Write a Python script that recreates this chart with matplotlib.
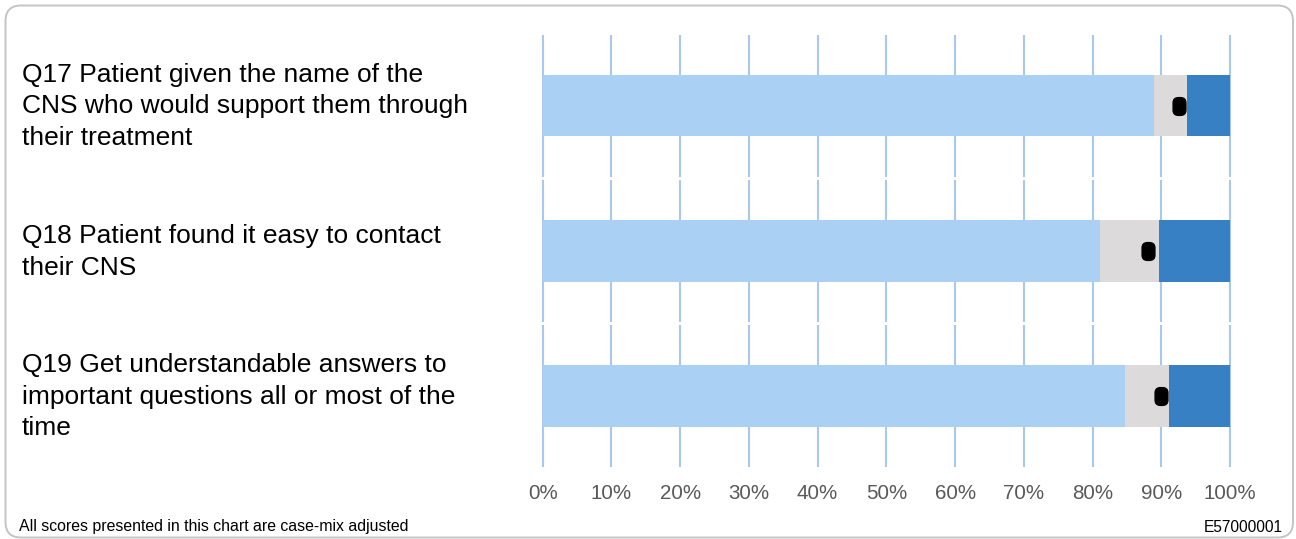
import matplotlib
matplotlib.use("Agg")
import matplotlib.pyplot as plt
from matplotlib.patches import FancyBboxPatch
from matplotlib.path import Path
from matplotlib.markers import MarkerStyle
import matplotlib.transforms as mtransforms

plt.rcParams['font.family'] = ['Liberation Sans', 'DejaVu Sans']

# ---- data ----
questions = [
    "Q17 Patient given the name of the\nCNS who would support them through\ntheir treatment",
    "Q18 Patient found it easy to contact\ntheir CNS",
    "Q19 Get understandable answers to\nimportant questions all or most of the\ntime",
]
lower_limit = [88.9, 81.1, 84.7]   # end of light-blue segment
upper_limit = [93.8, 89.7, 91.1]   # end of grey (expected range) segment
max_score = [100, 100, 100]
trust_score = [92.6, 88.0, 90.0]
tick_values = [0, 10, 20, 30, 40, 50, 60, 70, 80, 90, 100]
tick_labels = ["0%", "10%", "20%", "30%", "40%", "50%", "60%", "70%", "80%", "90%", "100%"]
footer_left = "All scores presented in this chart are case-mix adjusted"
footer_right = "E57000001"

# ---- style ----
c_low = "#AAD0F4"
c_mid = "#DCDADA"
c_high = "#3880C4"
c_grid = "#A9C9EC"

W, H = 1296, 539
fig = plt.figure(figsize=(W / 100, H / 100), dpi=100)

# rounded border
border = FancyBboxPatch((5.5 / W, 1.5 / H), (1293 - 5.5) / W, (533.5 - 1.5) / H,
                        boxstyle="round,pad=0,rounding_size=0.012",
                        transform=fig.transFigure, facecolor="none",
                        edgecolor="#C4C4C4", linewidth=1.4, mutation_aspect=W / H)
fig.patches.append(border)

# rounded-rect marker
box = FancyBboxPatch((-0.36, -0.5), 0.72, 1.0,
                     boxstyle="round,pad=0,rounding_size=0.3")
marker_path = box.get_path()
marker = MarkerStyle(Path(marker_path.vertices, marker_path.codes))

rows = [(35, 176.5), (180, 322), (325, 467)]
x0, x1 = 542.7, 1230.0

for i, (top, bot) in enumerate(rows):
    ax = fig.add_axes([x0 / W, 1 - bot / H, (x1 - x0) / W, (bot - top) / H])
    ax.set_xlim(0, 100)
    ax.set_ylim(-0.5, 0.5)
    for s in ax.spines.values():
        s.set_visible(False)
    ax.vlines(tick_values, -0.5, 0.5, colors=c_grid, linewidth=1.5,
              zorder=0, clip_on=False)
    h = 0.43
    ax.barh(0, lower_limit[i], height=h, color=c_low, zorder=2)
    ax.barh(0, upper_limit[i] - lower_limit[i], left=lower_limit[i], height=h,
            color=c_mid, zorder=2)
    ax.barh(0, max_score[i] - upper_limit[i], left=upper_limit[i], height=h,
            color=c_high, zorder=2)
    ax.plot([trust_score[i]], [0], linestyle="none", marker=marker,
            markersize=12.8, color="black", zorder=3)
    ax.set_yticks([])
    if i == len(rows) - 1:
        ax.set_xticks(tick_values)
        ax.set_xticklabels(tick_labels, fontsize=14.8, color="#595959")
        ax.tick_params(axis="x", length=0, pad=12)
    else:
        ax.set_xticks([])
    trans = mtransforms.blended_transform_factory(fig.transFigure, ax.transData)
    ax.text(22 / W, -0.005, questions[i], transform=trans, ha="left", va="center",
            fontsize=19, color="black", linespacing=1.4)

fig.text(19 / W, 1 - 527 / H, footer_left, ha="left", va="center", fontsize=11.4,
         color="black")
fig.text(1283 / W, 1 - 528 / H, footer_right, ha="right", va="center", fontsize=11.2,
         color="black")

fig.savefig("out.png", dpi=100)
